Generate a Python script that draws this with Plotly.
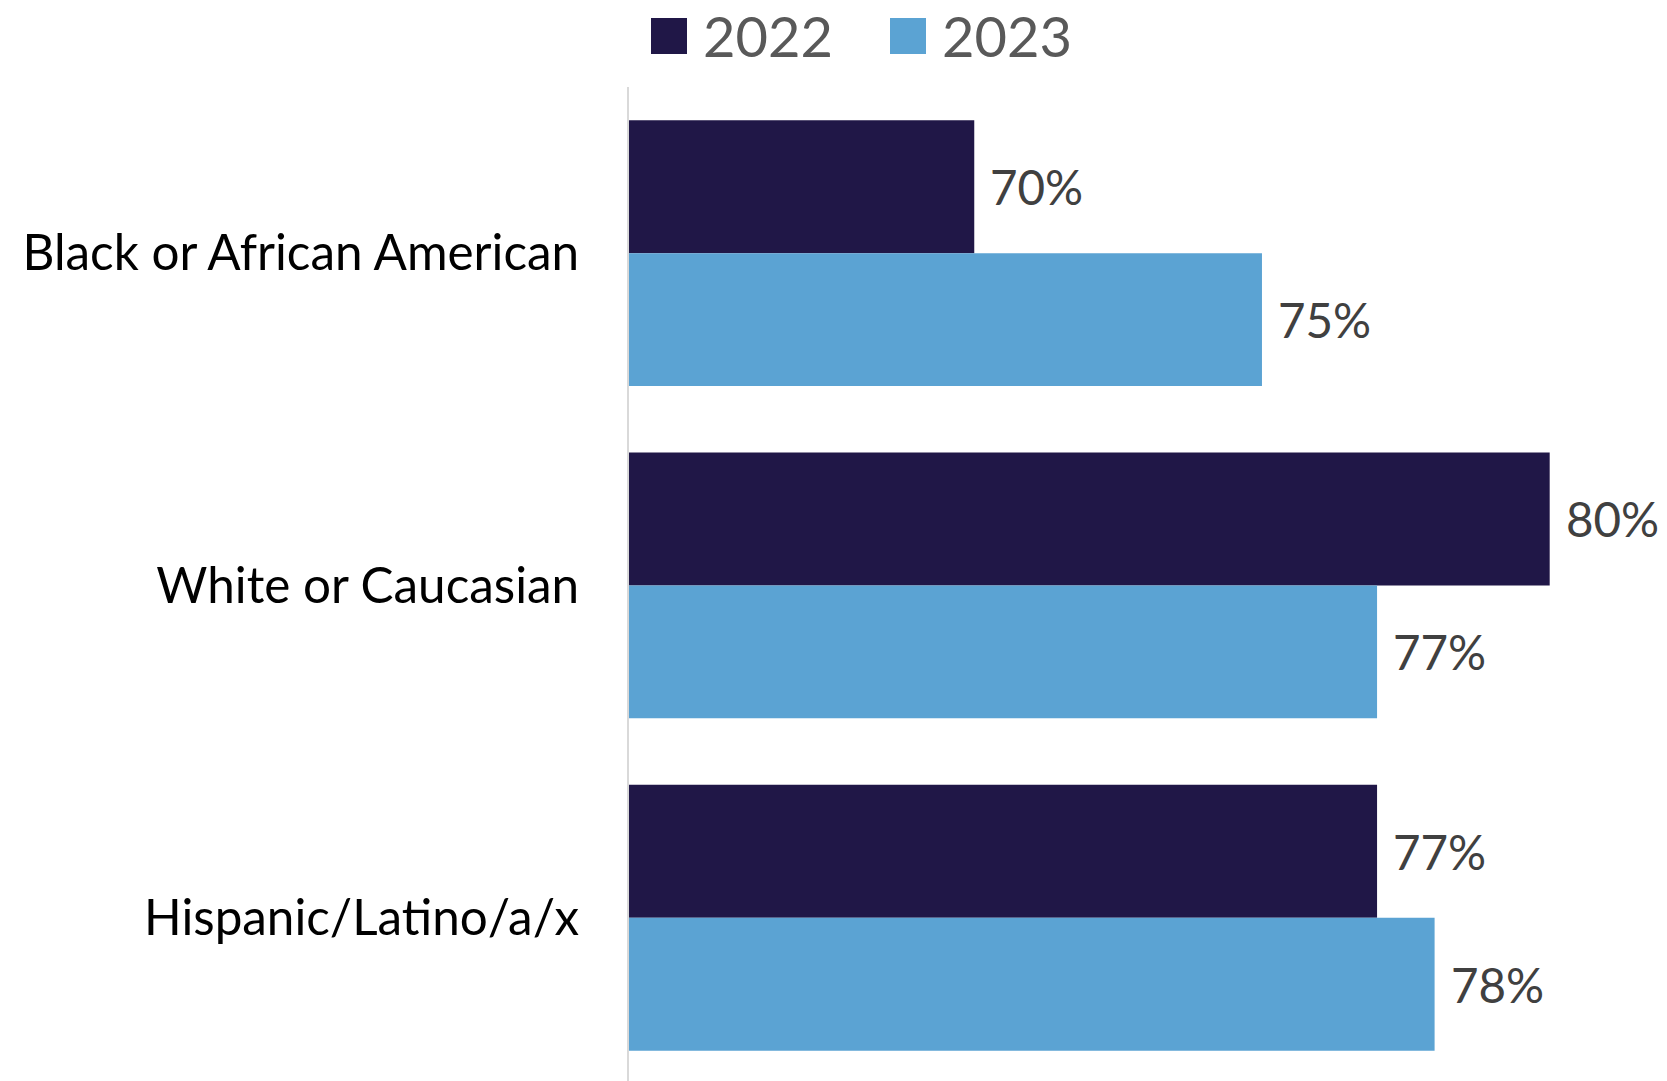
import plotly.graph_objects as go

# Share by race/ethnicity, 2022 vs 2023
categories = ["Black or African American", "White or Caucasian", "Hispanic/Latino/a/x"]
series_names = ["2022", "2023"]
values_2022 = [70, 80, 77]
values_2023 = [75, 77, 78]
series_values = [values_2022, values_2023]
colors = ["#201747", "#5BA3D3"]

W, H = 1667, 1081
M_L, M_R, M_T, M_B = 629, 31, 87, 0
PLOT_W = W - M_L - M_R
PLOT_H = H - M_T - M_B
FONT = "Lato"

y_idx = list(range(len(categories)))
bar_gap = 0.2
half_slot = (1 - bar_gap) / len(series_names) / 2  # half of one bar's thickness

fig = go.Figure()
for k, (name, vals, col) in enumerate(zip(series_names, series_values, colors)):
    fig.add_trace(go.Bar(
        name=name, x=vals, y=y_idx, orientation="h",
        marker=dict(color=col, line=dict(width=0)),
        showlegend=False, hoverinfo="x+name",
    ))

# value labels to the right of each bar
annotations = []
n = len(series_names)
for k, vals in enumerate(series_values):
    offset = (k - (n - 1) / 2) * 2 * half_slot
    for i, v in enumerate(vals):
        annotations.append(dict(
            x=v, y=i + offset, xref="x", yref="y",
            text=f"{v}%", showarrow=False, xanchor="left", yanchor="middle",
            xshift=14, font=dict(family=FONT, size=47.5, color="#404040"),
        ))


def px_x(p):
    return (p - M_L) / PLOT_W


def px_y(p):
    return (H - M_B - p) / PLOT_H


# legend drawn as swatches + labels across the top
shapes = []
legend_x = [651, 890]
for name, col, lx in zip(series_names, colors, legend_x):
    shapes.append(dict(
        type="rect", xref="paper", yref="paper",
        x0=px_x(lx), x1=px_x(lx + 36), y0=px_y(54), y1=px_y(18),
        fillcolor=col, line=dict(width=0),
    ))
    annotations.append(dict(
        x=px_x(lx + 50), y=px_y(36), xref="paper", yref="paper",
        text=name, showarrow=False, xanchor="left", yanchor="middle",
        font=dict(family=FONT, size=56, color="#595959"),
    ))

fig.update_layout(
    width=W, height=H,
    margin=dict(l=M_L, r=M_R, t=M_T, b=M_B, pad=0),
    paper_bgcolor="white", plot_bgcolor="white",
    barmode="group", bargap=bar_gap, bargroupgap=0,
    xaxis=dict(range=[64, 81.5], visible=False, showgrid=False, zeroline=False),
    yaxis=dict(
        range=[-0.5 + PLOT_H / 332.3, -0.5],
        tickvals=y_idx, ticktext=categories,
        showgrid=False, zeroline=False, ticks="",
        showline=True, linecolor="#D9D9D9", linewidth=2,
        ticklabelstandoff=38,
        tickfont=dict(family=FONT, size=49.4, color="#000000"),
    ),
    annotations=annotations, shapes=shapes,
    font=dict(family=FONT),
)

fig.write_html("out.html")
